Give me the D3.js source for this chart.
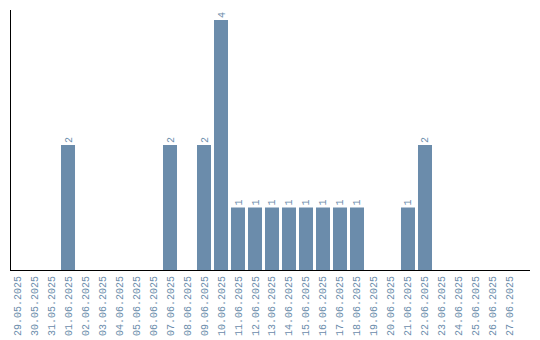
<!DOCTYPE html>
<html>
<head>
<meta charset="utf-8">
<script src="https://cdn.jsdelivr.net/npm/d3@7"></script>
<style>
  body { margin: 0; background: #fff; }
  text { font-family: "Liberation Mono", monospace; font-size: 10px; fill: #6b8cab; }
</style>
</head>
<body>
<div id="chart-area"></div>
<script>
// DATA
var dates = ["29.05.2025", "30.05.2025", "31.05.2025", "01.06.2025", "02.06.2025",
    "03.06.2025", "04.06.2025", "05.06.2025", "06.06.2025", "07.06.2025",
    "08.06.2025", "09.06.2025", "10.06.2025", "11.06.2025", "12.06.2025",
    "13.06.2025", "14.06.2025", "15.06.2025", "16.06.2025", "17.06.2025",
    "18.06.2025", "19.06.2025", "20.06.2025", "21.06.2025", "22.06.2025",
    "23.06.2025", "24.06.2025", "25.06.2025", "26.06.2025", "27.06.2025"];
var counts = [0, 0, 0, 2, 0, 0, 0, 0, 0, 2, 0, 2, 4, 1, 1, 1, 1, 1, 1, 1, 1, 0, 0, 1, 2, 0, 0, 0, 0, 0];

var width = 540;
var height = 340;
var barColor = "#6b8cab";

var svg = d3.select("#chart-area")
    .append("svg")
    .attr("width", width)
    .attr("height", height);

// SCALES
var x = d3.scaleBand()
    .domain(dates)
    .range([10, 517])
    .paddingInner(0.176)
    .paddingOuter(0);

var y = d3.scaleLinear()
    .domain([0, 4])
    .range([270, 20]);

var data = dates.map((d, i) => ({ date: d, value: counts[i] }));

// BARS
svg.selectAll("rect.bar")
    .data(data.filter(d => d.value > 0))
    .enter()
    .append("rect")
    .attr("class", "bar")
    .attr("x", d => x(d.date))
    .attr("y", d => y(d.value))
    .attr("width", x.bandwidth())
    .attr("height", d => y(0) - y(d.value))
    .attr("fill", barColor);

// value labels
svg.selectAll("text.value")
    .data(data.filter(d => d.value > 0))
    .enter()
    .append("text")
    .attr("class", "value")
    .attr("transform", d => "translate(" + (x(d.date) + x.bandwidth() / 2) + "," + (y(d.value) - 2) + ") rotate(-90)")
    .attr("dy", "0.35em")
    .attr("text-anchor", "start")
    .text(d => d.value);

// X AXIS
var bottomAxis = d3.axisBottom(x).tickSize(0).tickPadding(0);
var xg = svg.append("g")
    .attr("transform", "translate(0,270)")
    .call(bottomAxis);
xg.select(".domain").remove();
xg.selectAll("text")
    .attr("font-family", null)
    .attr("font-size", null)
    .attr("fill", null)
    .attr("text-anchor", "end")
    .attr("transform", "translate(0,6) rotate(-90)")
    .attr("y", 0)
    .attr("x", 0)
    .attr("dy", "0.35em");

svg.append("line")
    .attr("x1", 10).attr("x2", 530)
    .attr("y1", 270.5).attr("y2", 270.5)
    .attr("stroke", "#000");

// Y AXIS line
svg.append("line")
    .attr("x1", 10.5).attr("x2", 10.5)
    .attr("y1", 10).attr("y2", 271)
    .attr("stroke", "#000");
</script>
</body>
</html>
